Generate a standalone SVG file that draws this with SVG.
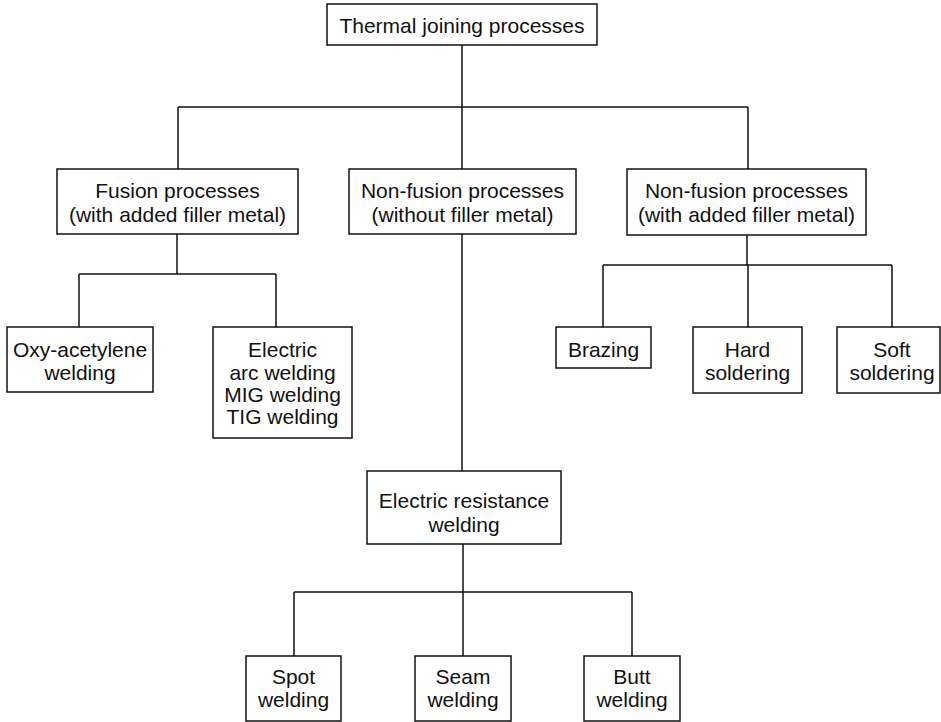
<svg xmlns="http://www.w3.org/2000/svg" width="941" height="722" viewBox="0 0 941 722">
<style>
.box{fill:#fff;stroke:#111;stroke-width:1.5}
.ln{fill:none;stroke:#111;stroke-width:1.5}
text{font-family:"Liberation Sans",Arial,sans-serif;font-size:21px;fill:#111;text-anchor:middle}
</style>
<rect width="941" height="722" fill="#fff"/>
<g id="connectors">
<path class="ln" d="M462,45 V107 M178,107 H748 M178,107 V169 M462,107 V169 M748,107 V169"/>
<path class="ln" d="M177,234 V274 M79,274 H276 M79,274 V327 M276,274 V327"/>
<path class="ln" d="M747,235 V265 M603,265 H892 M603,265 V327 M748,265 V327 M892,265 V327"/>
<path class="ln" d="M462,234 V471"/>
<path class="ln" d="M463,544 V592 M294,592 H632 M294,592 V656 M463,592 V656 M632,592 V656"/>
</g>
<g id="thermal"><rect class="box" x="327" y="4" width="270" height="41"/><text x="462" y="33">Thermal joining processes</text></g>
<g id="fusion"><rect class="box" x="57" y="169" width="241" height="65"/><text x="177.5" y="198">Fusion processes</text><text x="177.5" y="222">(with added filler metal)</text></g>
<g id="nonfusion-without"><rect class="box" x="349" y="169" width="227" height="65"/><text x="462.5" y="198">Non-fusion processes</text><text x="462.5" y="222">(without filler metal)</text></g>
<g id="nonfusion-with"><rect class="box" x="627" y="169" width="239" height="66"/><text x="746.5" y="198">Non-fusion processes</text><text x="746.5" y="222">(with added filler metal)</text></g>
<g id="oxy"><rect class="box" x="7" y="327" width="146" height="65"/><text x="80" y="357">Oxy-acetylene</text><text x="80" y="380">welding</text></g>
<g id="electric"><rect class="box" x="213" y="327" width="139" height="111"/><text x="282.5" y="357">Electric</text><text x="282.5" y="380">arc welding</text><text x="282.5" y="402">MIG welding</text><text x="282.5" y="424">TIG welding</text></g>
<g id="brazing"><rect class="box" x="556" y="327" width="95" height="41"/><text x="603.5" y="357">Brazing</text></g>
<g id="hard"><rect class="box" x="693" y="327" width="109" height="66"/><text x="747.5" y="357">Hard</text><text x="747.5" y="380">soldering</text></g>
<g id="soft"><rect class="box" x="837" y="327" width="103" height="66"/><text x="892" y="357">Soft</text><text x="892" y="380">soldering</text></g>
<g id="resistance"><rect class="box" x="367" y="471" width="194" height="73"/><text x="464" y="508">Electric resistance</text><text x="464" y="532">welding</text></g>
<g id="spot"><rect class="box" x="246" y="656" width="95" height="65"/><text x="293.5" y="684">Spot</text><text x="293.5" y="707">welding</text></g>
<g id="seam"><rect class="box" x="415" y="656" width="96" height="65"/><text x="463" y="684">Seam</text><text x="463" y="707">welding</text></g>
<g id="butt"><rect class="box" x="584" y="656" width="96" height="65"/><text x="632" y="684">Butt</text><text x="632" y="707">welding</text></g>
</svg>
